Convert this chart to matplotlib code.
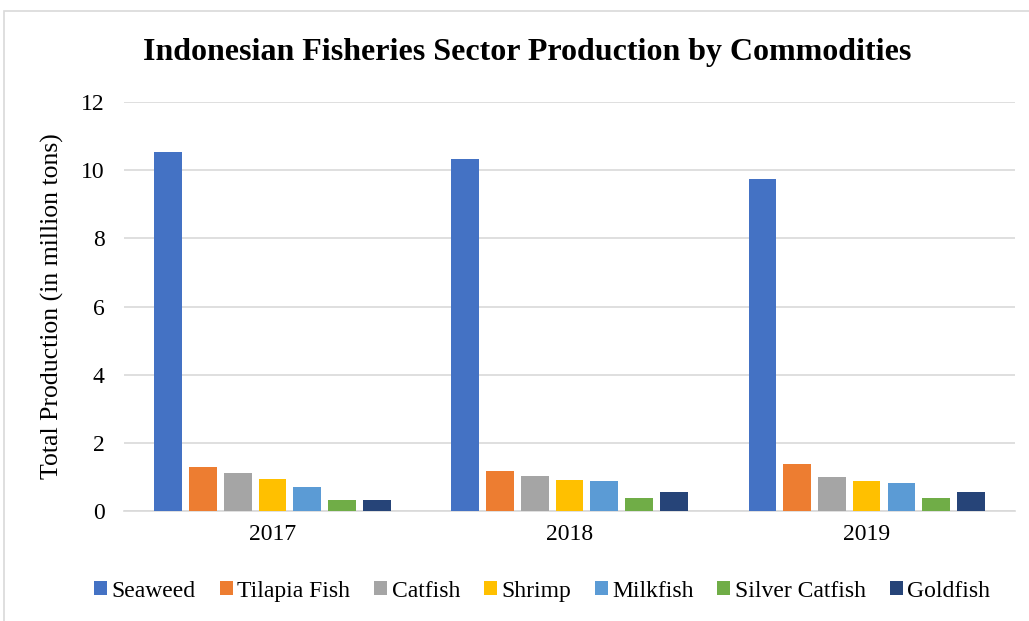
import numpy as np
import matplotlib.pyplot as plt
from matplotlib.patches import Rectangle

years = ["2017", "2018", "2019"]
commodities = ["Seaweed", "Tilapia Fish", "Catfish", "Shrimp", "Milkfish",
               "Silver Catfish", "Goldfish"]
seaweed = [10.53, 10.33, 9.74]
tilapia = [1.28, 1.17, 1.38]
catfish = [1.13, 1.03, 1.01]
shrimp = [0.93, 0.91, 0.87]
milkfish = [0.70, 0.87, 0.83]
silver_catfish = [0.32, 0.38, 0.39]
goldfish = [0.32, 0.56, 0.56]
colors = ["#4472C4", "#ED7D31", "#A5A5A5", "#FFC000", "#5B9BD5", "#70AD47", "#264478"]


def main() -> None:
    plt.rcParams["font.family"] = ["Liberation Serif", "DejaVu Serif"]
    series = [seaweed, tilapia, catfish, shrimp, milkfish, silver_catfish, goldfish]

    fig = plt.figure(figsize=(10.29, 6.21), dpi=100)
    fig.patches.append(Rectangle((4 / 1029, -0.01), 1.1, 1 - 11 / 621 + 0.01,
                                 transform=fig.transFigure, fill=False,
                                 edgecolor="#d9d9d9", linewidth=1.2))
    ax = fig.add_axes([0.1205, 0.177, 0.866, 0.6586])

    x = np.arange(len(years))
    pitch = 0.117
    width = 0.093
    for i, (name, vals) in enumerate(zip(commodities, series)):
        ax.bar(x + (i - 3) * pitch, vals, width, color=colors[i], label=name, zorder=3)

    ax.set_xlim(-0.5, 2.5)
    ax.set_ylim(0, 12)
    ax.set_yticks(range(0, 13, 2))
    ax.set_xticks(x)
    ax.set_xticklabels(years)
    ax.tick_params(length=0, labelsize=17, colors="#000000")
    ax.tick_params(axis="x", pad=9)
    ax.tick_params(axis="y", pad=14)
    ax.grid(axis="y", color="#d9d9d9", linewidth=1.2, zorder=0)
    for s in ["top", "right", "left"]:
        ax.spines[s].set_visible(False)
    ax.spines["bottom"].set_color("#d9d9d9")
    ax.spines["bottom"].set_linewidth(1.2)
    ax.set_ylabel("Total Production (in million tons)", fontsize=18.5, labelpad=12)

    fig.text(0.512, 0.915, "Indonesian Fisheries Sector Production by Commodities",
             ha="center", va="center", fontsize=23, fontweight="bold")
    fig.legend(loc="center", bbox_to_anchor=(0.527, 0.048), ncol=7, frameon=False,
               fontsize=17, handlelength=0.55, handleheight=0.55, handletextpad=0.2,
               columnspacing=1.0)

    fig.savefig("out.png", dpi=100)
    plt.close(fig)


if __name__ == "__main__":
    main()
